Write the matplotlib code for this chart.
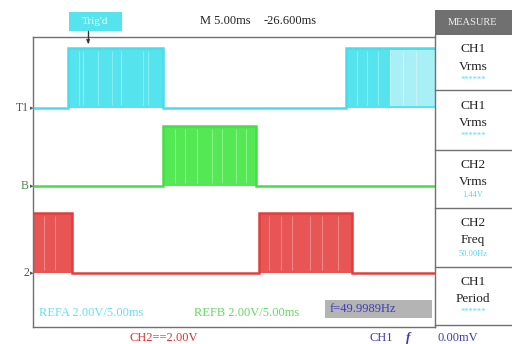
import matplotlib
matplotlib.use("Agg")
import matplotlib.pyplot as plt
from matplotlib.patches import Rectangle

# ---- data (time in ms, levels in V) ----
ch1_edges = [0.0, 2.52, 9.35, 22.5, 28.9]
ch1_levels = [0.0, 3.3, 0.0, 3.3]
ch2_edges = [0.0, 9.35, 16.04, 28.9]
ch2_levels = [0.0, 3.3, 0.0]
ch3_edges = [0.0, 2.8, 16.26, 22.95, 28.9]
ch3_levels = [3.3, 0.0, 3.3, 0.0]
offsets = {"ch1": 12.1, "ch2": 7.8, "ch3": 3.0}
# PWM gaps visible inside the high blocks (ms)
ch1_gaps = [3.3, 3.6, 4.7, 5.7, 6.3, 7.9, 8.3, 23.3, 24.0, 24.8, 25.7, 26.6, 27.5]
ch2_gaps = [10.2, 10.9, 11.8, 12.9, 13.6, 14.6, 15.3]
ch3_gaps = [0.8, 1.6, 17.0, 17.8, 18.6, 19.9, 20.8, 21.9]
measure_names = [("CH1", "Vrms"), ("CH1", "Vrms"), ("CH2", "Vrms"), ("CH2", "Freq"), ("CH1", "Period")]
measure_values = ["******", "******", "1.44V", "50.00Hz", "******"]

W, H = 512, 344
fig = plt.figure(figsize=(W / 100, H / 100), dpi=100)
fig.patch.set_facecolor("white")

def fx(px):
    return px / W

def fy(py):
    return 1 - py / H

ax = fig.add_axes([fx(33), fy(327), fx(435) - fx(33), fy(37) - fy(327)])
ax.set_xlim(0, 28.9)
ax.set_ylim(0, 16)
ax.set_xticks([])
ax.set_yticks([])
for s in ["left", "top", "bottom"]:
    ax.spines[s].set_color("#707070")
    ax.spines[s].set_linewidth(1.0)
ax.spines["right"].set_visible(False)

serif = "Liberation Serif"

def draw_channel(edges, levels, off, fill_c, line_c, gaps, light_from=None, light_c=None):
    vals = [off + v for v in levels]
    ax.stairs(vals, edges, baseline=off, fill=True, color=fill_c, lw=0, zorder=2)
    ax.stairs(vals, edges, baseline=None, color=line_c, lw=1.8, zorder=3)
    if light_from is not None:
        for i, v in enumerate(levels):
            a, b = edges[i], edges[i + 1]
            if v > 0 and b > light_from:
                ax.fill_between([max(a, light_from), b], off + 0.1, off + v - 0.1, color=light_c, lw=0, zorder=3.5)
    for g in gaps:
        ax.vlines(g, off + 0.15, off + 3.15, color="white", alpha=0.3, lw=0.8, zorder=4)

draw_channel(ch1_edges, ch1_levels, offsets["ch1"], "#55E4EE", "#48DDEA", ch1_gaps,
             light_from=25.7, light_c="#A8F0F6")
draw_channel(ch2_edges, ch2_levels, offsets["ch2"], "#55E855", "#46DE46", ch2_gaps)
draw_channel(ch3_edges, ch3_levels, offsets["ch3"], "#E85555", "#E23E3E", ch3_gaps)

# channel markers on the left
for lab, off, c in [("T1", offsets["ch1"], "#505060"), ("B", offsets["ch2"], "#4A8A4A"), ("2", offsets["ch3"], "#505050")]:
    yy = 327 - off * (290 / 16)
    fig.text(fx(29), fy(yy), lab, ha="right", va="center", fontsize=8.5, family=serif, color=c)
    fig.text(fx(31.5), fy(yy), "\u25b8", ha="center", va="center", fontsize=5, color="#505060")

fs = 9
# texts inside the screen
fig.text(fx(39), fy(313), "REFA 2.00V/5.00ms", fontsize=fs, family=serif, color="#66E0F0", va="center")
fig.text(fx(194), fy(313), "REFB 2.00V/5.00ms", fontsize=fs, family=serif, color="#66D866", va="center")
fig.patches.append(Rectangle((fx(325), fy(318)), fx(432) - fx(325), fy(300) - fy(318),
                             transform=fig.transFigure, facecolor="#B4B4B4", edgecolor="none"))
fig.text(fx(330), fy(309), "f=49.9989Hz", fontsize=fs, family=serif, color="#3C3CB4", va="center")

# top texts
fig.patches.append(Rectangle((fx(69), fy(31)), fx(122) - fx(69), fy(12) - fy(31),
                             transform=fig.transFigure, facecolor="#55E4EE", edgecolor="none"))
fig.text(fx(95.5), fy(21.5), "Trig'd", fontsize=8, family=serif, color="#E8FFFF", ha="center", va="center")
fig.lines.append(plt.Line2D([fx(88), fx(88)], [fy(31), fy(42)], transform=fig.transFigure, color="#333333", lw=1))
fig.text(fx(88), fy(42), "\u25bc", fontsize=4, color="#333333", ha="center", va="center")
fig.text(fx(200), fy(21), "M 5.00ms", fontsize=fs, family=serif, color="#222222", va="center")
fig.text(fx(264), fy(21), "-26.600ms", fontsize=fs, family=serif, color="#222222", va="center")

# bottom row
fig.text(fx(130), fy(338), "CH2==2.00V", fontsize=fs, family=serif, color="#E03030", va="center")
fig.text(fx(369), fy(338), "CH1", fontsize=fs, family=serif, color="#3C3CB4", va="center")
fig.text(fx(406), fy(338), "f", fontsize=9.5, family=serif, color="#3C3CB4", va="center",
         style="italic", weight="bold")
fig.text(fx(437), fy(338), "0.00mV", fontsize=fs, family=serif, color="#3C3CB4", va="center")

# measure panel
fig.patches.append(Rectangle((fx(435), fy(35)), fx(512) - fx(435), fy(10) - fy(35),
                             transform=fig.transFigure, facecolor="#707070", edgecolor="none"))
fig.text(fx(473), fy(22.5), "MEASURE", fontsize=7.5, family=serif, color="#F0F0F0", ha="center", va="center")
fig.lines.append(plt.Line2D([fx(435), fx(435)], [fy(35), fy(327)], transform=fig.transFigure, color="#707070", lw=1))
seps = [37, 90, 150, 208, 267, 325]
for s in seps[1:]:
    fig.lines.append(plt.Line2D([fx(435), fx(512)], [fy(s), fy(s)], transform=fig.transFigure, color="#707070", lw=1))
for i, ((a, b), v) in enumerate(zip(measure_names, measure_values)):
    top, bot = seps[i], seps[i + 1]
    cy = (top + bot) / 2
    fig.text(fx(473), fy(cy - 14), a, fontsize=9.5, family=serif, color="#222222", ha="center", va="center")
    fig.text(fx(473), fy(cy + 3), b, fontsize=9.5, family=serif, color="#222222", ha="center", va="center")
    fig.text(fx(473), fy(cy + 16), v, fontsize=6, family=serif, color="#55D8EE", ha="center", va="center")

fig.savefig("out.png", dpi=100)
